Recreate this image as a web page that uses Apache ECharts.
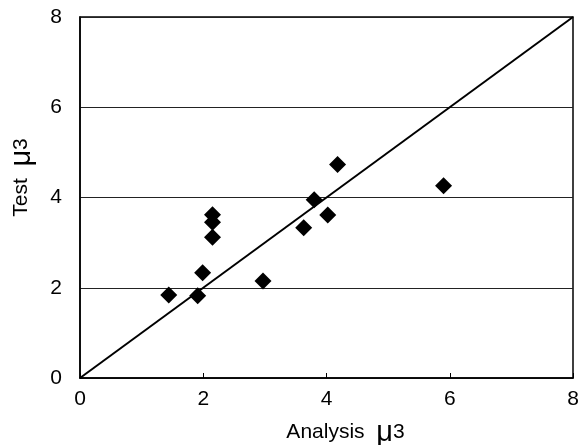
<!DOCTYPE html>
<html>
<head>
<meta charset="utf-8">
<script src="https://cdn.jsdelivr.net/npm/echarts@6/dist/echarts.min.js"></script>
<style>html,body{margin:0;padding:0;background:#fff}#c{width:582px;height:445px}</style>
</head>
<body>
<div id="c"></div>
<script>
var analysisMu3 = [1.44, 1.91, 1.99, 2.15, 2.15, 2.15, 2.97, 3.63, 3.80, 4.02, 4.18, 5.90];
var testMu3     = [1.84, 1.82, 2.33, 3.12, 3.45, 3.62, 2.15, 3.33, 3.95, 3.61, 4.73, 4.26];
var refLineX = [0, 8];
var refLineY = [0, 8];
var xTicks = [0, 2, 4, 6, 8];
var yTicks = [0, 2, 4, 6, 8];

var points = analysisMu3.map(function (x, i) { return [x, testMu3[i]]; });
var lineData = refLineX.map(function (x, i) { return [x, refLineY[i]]; });

var font = 'Liberation Sans, Arial, sans-serif';
var rich = {
  t: { fontFamily: font, fontSize: 21, color: '#000' },
  m: { fontFamily: font, fontSize: 29, color: '#000' },
  n: { fontFamily: font, fontSize: 21, color: '#000' }
};
var chart = echarts.init(document.getElementById('c'));
chart.setOption({
  backgroundColor: '#fff',
  animation: false,
  grid: { left: 80, right: 9, top: 17, bottom: 67, containLabel: false, outerBoundsMode: 'none', show: true, borderColor: '#000', borderWidth: 1.5, backgroundColor: 'transparent' },
  xAxis: {
    type: 'value', min: xTicks[0], max: xTicks[xTicks.length - 1], interval: 2,
    name: '{t|Analysis  }{m|μ}{n|3}', nameLocation: 'middle', nameGap: 40,
    nameTextStyle: { padding: [0, 0, 0, 38], rich: rich },
    axisLine: { show: true, lineStyle: { color: '#000', width: 1.5 } },
    axisTick: { show: true, inside: true, length: 5, lineStyle: { color: '#000' } },
    axisLabel: { fontFamily: font, fontSize: 21, color: '#000', margin: 11 },
    splitLine: { show: false }
  },
  yAxis: {
    type: 'value', min: yTicks[0], max: yTicks[yTicks.length - 1], interval: 2,
    name: '{t|Test  }{m|μ}{n|3}', nameLocation: 'middle', nameGap: 44,
    nameTextStyle: { padding: [0, 0, 0, 40], rich: rich },
    axisLine: { show: true, lineStyle: { color: '#000', width: 1.5 } },
    axisTick: { show: false },
    axisLabel: { fontFamily: font, fontSize: 21, color: '#000', margin: 18 },
    splitLine: { show: true, lineStyle: { color: '#222', width: 1 } }
  },
  series: [
    { type: 'line', data: lineData, symbol: 'none', lineStyle: { color: '#000', width: 2 }, silent: true, z: 2 },
    { type: 'scatter', data: points, symbol: 'diamond', symbolSize: [17, 17], itemStyle: { color: '#000', opacity: 1 }, z: 3 }
  ]
});
</script>
</body>
</html>
